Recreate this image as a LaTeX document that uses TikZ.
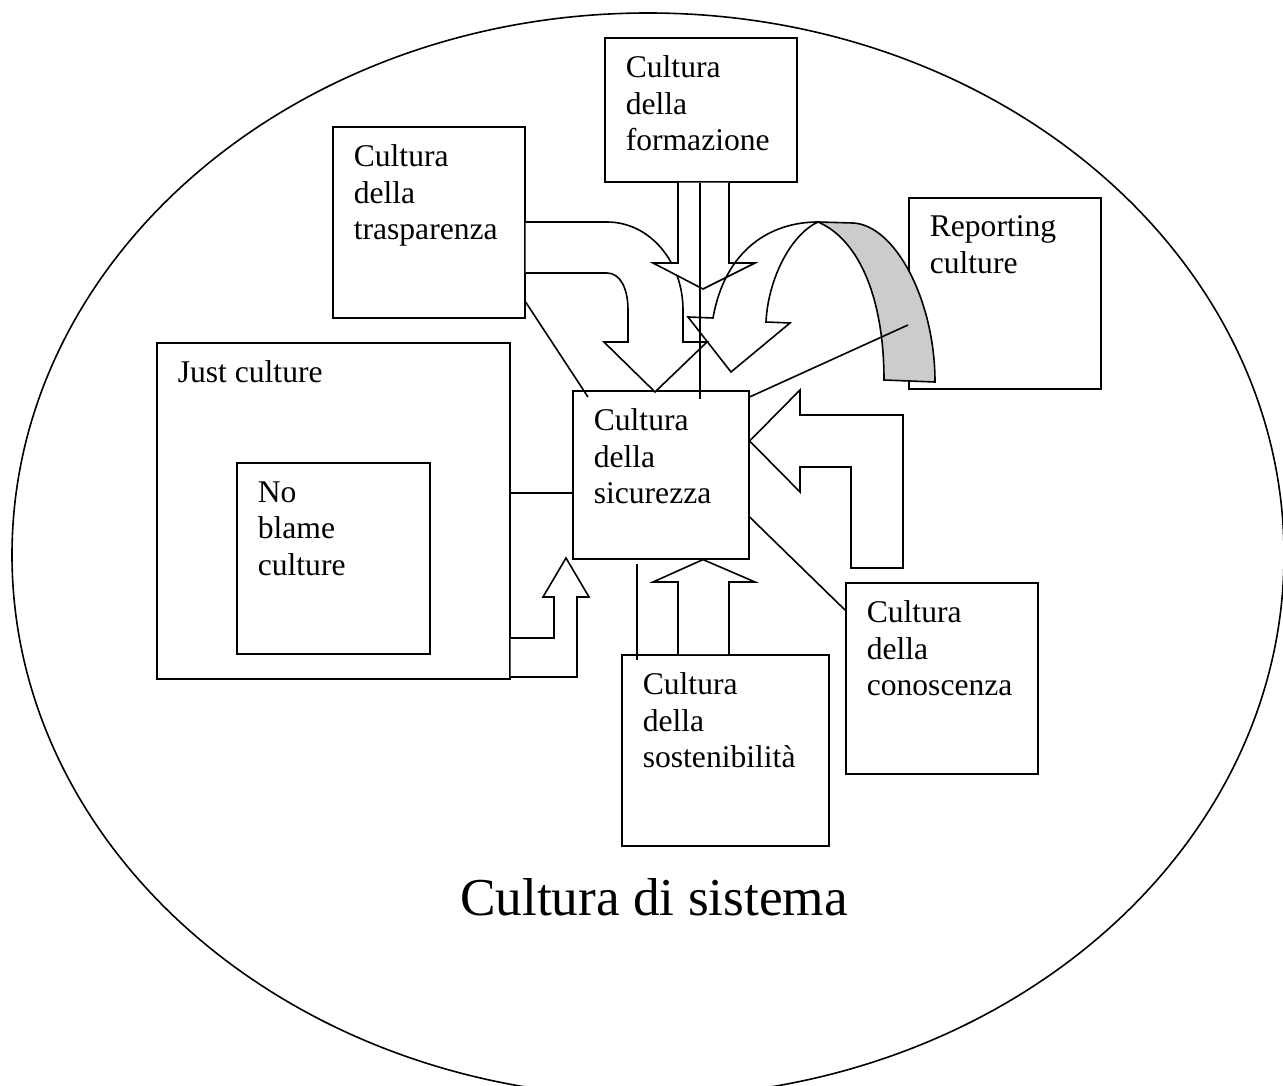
\documentclass[tikz,border=0pt]{standalone}
\usepackage{fontspec}
\setmainfont{Liberation Serif}
\usepackage{tikz}
\usetikzlibrary{positioning}

\newcommand{\boxfont}{\fontsize{31.6}{36.5}\selectfont}

\tikzset{
  box/.style={draw, anchor=north west, inner sep=0pt},
  boxtext/.style={anchor=north west, inner sep=0pt, align=left, font=\boxfont},
  blockarrow/.style={draw, fill=white, line join=miter}
}

\begin{document}
\begin{tikzpicture}[x=1pt, y=-1pt, line width=1.6pt]
    \clip (0,0) rectangle (1283,1086);
    \draw (648,555) ellipse [x radius=636, y radius=542];

    \node (form) [box, minimum width=192pt, minimum height=144pt] at (604,37) {};
    \node (trasp) [box, minimum width=192pt, minimum height=191pt] at (332,126) {};
    \node (just) [box, minimum width=353pt, minimum height=336pt] at (156,342) {};
    \node (noblame) [box, minimum width=193pt, minimum height=191pt] at (236,462) {};
    \node (sicur) [box, minimum width=176pt, minimum height=168pt] at (572,390) {};
    \node (report) [box, minimum width=192pt, minimum height=191pt] at (908,197) {};
    \node (conosc) [box, minimum width=192pt, minimum height=191pt] at (845,582) {};
    \node (sosten) [box, minimum width=207pt, minimum height=191pt] at (621,654) {};

    \node (form-t) [boxtext] at ([shift={(21,18)}]form.north west) {Cultura\\della\\formazione};
    \node (trasp-t) [boxtext] at ([shift={(21,18)}]trasp.north west) {Cultura\\della\\trasparenza};
    \node (just-t) [boxtext] at ([shift={(21,18)}]just.north west) {Just culture};
    \node (noblame-t) [boxtext] at ([shift={(21,19)}]noblame.north west) {No\\blame\\culture};
    \node (sicur-t) [boxtext] at ([shift={(21,18)}]sicur.north west) {Cultura\\della\\sicurezza};
    \node (report-t) [boxtext] at ([shift={(21,18)}]report.north west) {Reporting\\culture};
    \node (conosc-t) [boxtext] at ([shift={(21,18)}]conosc.north west) {Cultura\\della\\conoscenza};
    \node (sosten-t) [boxtext] at ([shift={(21,18)}]sosten.north west) {Cultura\\della\\sostenibilità};
    \node (sistema) [anchor=base, inner sep=0pt, font=\fontsize{53.3}{60}\selectfont] at (654,915) {Cultura di sistema};

    % block arrows
    \draw[blockarrow] (trasp.east |- 0,222) -- (607,222) .. controls (650,222) and (683,262) .. (683,310)
        -- (683,342) -- (707,342) -- (655,392) -- (604,342) -- (628,342) -- (628,310)
        .. controls (628,288) and (620,273) .. (607,273) -- (trasp.east |- 0,273);
    \draw[blockarrow] (form.south -| 678,0) -- (678,263) -- (653,263) -- (703,289) -- (755,263)
        -- (729,263) -- (form.south -| 729,0);
    \draw[blockarrow, fill=black!20] (818,222) -- (853,223) .. controls (895,225) and (935,300) .. (935,382)
        -- (884,380) .. controls (884,300) and (860,240) .. (818,222) -- cycle;
    \draw[blockarrow, fill=none] (713,318) -- (688,317) -- (731,372) -- (790,323) -- (766,322)
        .. controls (768,280) and (790,235) .. (818,222) .. controls (770,222) and (725,250) .. (713,318) -- cycle;
    \draw[blockarrow] (sicur.east |- 0,441) -- (800,390) -- (800,415) -- (903,415) -- (903,568)
        -- (851,568) -- (851,467) -- (800,467) -- (800,492) -- cycle;
    \draw[blockarrow] (sosten.north -| 678,0) -- (678,582) -- (653,582) -- (sicur.south -| 703,0)
        -- (755,582) -- (729,582) -- (sosten.north -| 729,0);
    \draw[blockarrow] (just.east |- 0,638) -- (554,638) -- (554,597) -- (543,597) -- (566,558)
        -- (589,597) -- (577,597) -- (577,677) -- (just.east |- 0,677);

    % plain links
    \draw (just.east |- 0,493) -- (sicur.west |- 0,493);
    \draw (trasp.east |- 0,302) -- ([shift={(16,7)}]sicur.north west);
    \draw ([yshift=-7pt]sicur.north east) -- (report.west |- 0,325);
    \draw (sicur.east |- 0,517) -- (conosc.west |- 0,610);
    \draw (637,564) -- (sosten.north -| 637,0) -- ++(0,6);
    \draw (form.south -| 700,0) -- ++(0,216);
\end{tikzpicture}
\end{document}
